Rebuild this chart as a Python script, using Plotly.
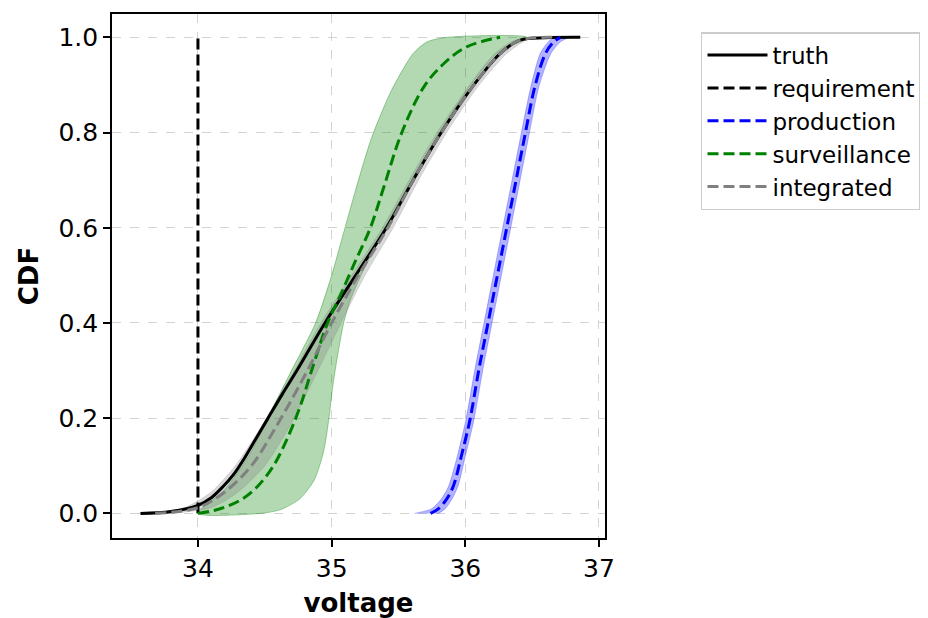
import plotly.graph_objects as go

# ---------------- data ----------------
truth_x = [33.57, 33.8, 34.0, 34.1, 34.19, 34.27, 34.35, 34.43, 34.52, 34.63, 34.74, 34.95, 35.18, 35.41, 35.61, 35.82, 36.05, 36.26, 36.41, 36.6, 36.86]
truth_cdf = [0.0, 0.004, 0.017, 0.033, 0.057, 0.083, 0.117, 0.155, 0.198, 0.25, 0.30, 0.40, 0.50, 0.60, 0.70, 0.80, 0.895, 0.966, 0.994, 0.999, 1.0]

req_x = [34.0, 34.0]
req_cdf = [0.0, 1.0]

prod_x = [35.74, 35.80, 35.86, 35.91, 35.97, 36.035, 36.10, 36.17, 36.24, 36.31, 36.38, 36.45, 36.52, 36.60, 36.66, 36.71]
prod_cdf = [0.0, 0.01, 0.03, 0.057, 0.12, 0.197, 0.30, 0.40, 0.50, 0.60, 0.70, 0.80, 0.896, 0.966, 0.99, 1.0]
prod_band_left_x = [35.62, 35.75, 35.82, 35.875, 35.94, 36.005, 36.07, 36.14, 36.21, 36.28, 36.35, 36.42, 36.49, 36.56, 36.62, 36.66]
prod_band_right_x = [35.80, 35.85, 35.90, 35.945, 36.0, 36.065, 36.13, 36.20, 36.27, 36.34, 36.41, 36.48, 36.55, 36.64, 36.71, 36.77]

surv_x = [34.0, 34.12, 34.22, 34.33, 34.44, 34.565, 34.68, 34.765, 34.85, 34.97, 35.06, 35.17, 35.29, 35.39, 35.525, 35.69, 35.84, 36.01, 36.26]
surv_cdf = [0.0, 0.006, 0.015, 0.03, 0.055, 0.10, 0.165, 0.225, 0.30, 0.40, 0.455, 0.525, 0.60, 0.685, 0.80, 0.896, 0.945, 0.98, 1.0]
surv_upper_x = [34.0, 34.2, 34.4, 34.52, 34.7, 34.88, 35.0, 35.10, 35.18, 35.30, 35.45, 35.61, 35.71, 35.86]
surv_upper_cdf = [0.0, 0.05, 0.13, 0.20, 0.30, 0.40, 0.50, 0.60, 0.68, 0.79, 0.89, 0.966, 0.99, 1.0]
surv_lower_x = [34.0, 34.47, 34.62, 34.76, 34.87, 34.94, 34.98, 35.01, 35.05, 35.09, 35.14, 35.22, 35.40, 35.60, 35.81, 36.03, 36.235, 36.46]
surv_lower_cdf = [0.0, 0.0, 0.008, 0.03, 0.07, 0.13, 0.20, 0.27, 0.34, 0.40, 0.448, 0.50, 0.60, 0.70, 0.80, 0.896, 0.966, 1.0]

integ_x = [33.68, 34.0, 34.2, 34.4, 34.58, 34.8, 35.0, 35.2, 35.42, 35.61, 35.82, 36.05, 36.26, 36.41, 36.65]
integ_cdf = [0.0, 0.012, 0.045, 0.10, 0.18, 0.29, 0.40, 0.50, 0.60, 0.70, 0.80, 0.895, 0.966, 0.994, 1.0]
integ_band_left_x = [33.55, 33.9, 34.1, 34.28, 34.47, 34.7, 34.92, 35.15, 35.38, 35.58, 35.79, 36.02, 36.22, 36.37, 36.6]
integ_band_right_x = [33.8, 34.1, 34.3, 34.5, 34.68, 34.88, 35.07, 35.25, 35.46, 35.65, 35.86, 36.09, 36.31, 36.46, 36.72]

x_ticks = [34, 35, 36, 37]
y_ticks = [0.0, 0.2, 0.4, 0.6, 0.8, 1.0]
y_tick_text = ["0.0", "0.2", "0.4", "0.6", "0.8", "1.0"]

# ---------------- figure ----------------
fig = go.Figure()
SM = 1.0

def band(xl, yl, xr, yr, fill, edge):
    return go.Scatter(
        x=list(xl) + list(xr)[::-1],
        y=list(yl) + list(yr)[::-1],
        fill="toself", fillcolor=fill,
        line=dict(color=edge, width=1, shape="spline", smoothing=0.7),
        mode="lines", showlegend=False, hoverinfo="skip",
    )

fig.add_trace(band(prod_band_left_x, prod_cdf, prod_band_right_x, prod_cdf,
                   "rgba(0,0,255,0.3)", "rgba(0,0,255,0.25)"))
fig.add_trace(band(surv_upper_x, surv_upper_cdf, surv_lower_x, surv_lower_cdf,
                   "rgba(0,128,0,0.3)", "rgba(0,128,0,0.35)"))
fig.add_trace(band(integ_band_left_x, integ_cdf, integ_band_right_x, integ_cdf,
                   "rgba(128,128,128,0.3)", "rgba(128,128,128,0.25)"))

dash = "11px,5px"
fig.add_trace(go.Scatter(x=truth_x, y=truth_cdf, mode="lines", name="truth",
                         line=dict(color="black", width=3, shape="spline", smoothing=SM)))
fig.add_trace(go.Scatter(x=req_x, y=req_cdf, mode="lines", name="requirement",
                         line=dict(color="black", width=3, dash=dash)))
fig.add_trace(go.Scatter(x=prod_x, y=prod_cdf, mode="lines", name="production",
                         line=dict(color="blue", width=3, dash=dash, shape="spline", smoothing=SM)))
fig.add_trace(go.Scatter(x=surv_x, y=surv_cdf, mode="lines", name="surveillance",
                         line=dict(color="green", width=3, dash=dash, shape="spline", smoothing=SM)))
fig.add_trace(go.Scatter(x=integ_x, y=integ_cdf, mode="lines", name="integrated",
                         line=dict(color="gray", width=3, dash=dash, shape="spline", smoothing=SM)))

axis_common = dict(
    showline=True, linecolor="black", linewidth=1.6, mirror=True,
    ticks="outside", ticklen=7, tickwidth=1.6, tickcolor="black",
    showgrid=True, gridcolor="#d3d3d3", gridwidth=1.2, griddash="dash",
    zeroline=False, automargin=False,
    tickfont=dict(family="DejaVu Sans", size=25, color="black"),
)

fig.update_xaxes(range=[33.357, 37.045], tickvals=x_ticks, ticktext=[str(v) for v in x_ticks],
                 title=dict(text="<b>voltage</b>", font=dict(family="DejaVu Sans", size=26, color="black"),
                            standoff=12),
                 **axis_common)
fig.update_yaxes(range=[-0.0517, 1.049], tickvals=y_ticks, ticktext=y_tick_text,
                 title=dict(text="<b>CDF</b>", font=dict(family="DejaVu Sans", size=26, color="black"),
                            standoff=12),
                 **axis_common)

fig.update_layout(
    width=920, height=610,
    margin=dict(l=104, r=323, t=6, b=80, autoexpand=False),
    paper_bgcolor="white", plot_bgcolor="white",
    legend=dict(x=1.1947, y=0.9656, xanchor="left", yanchor="top",
                bordercolor="#cccccc", borderwidth=1.5, bgcolor="white",
                font=dict(family="DejaVu Sans", size=23, color="black"),
                itemwidth=60, tracegroupgap=0),
)

fig.write_html("out.html")
